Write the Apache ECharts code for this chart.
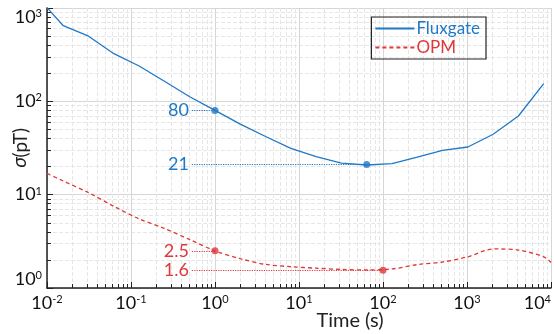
<!DOCTYPE html>
<html>
<head>
<meta charset="utf-8">
<script src="https://cdn.jsdelivr.net/npm/echarts@6/dist/echarts.min.js"></script>
<style>
  html, body { margin: 0; padding: 0; background: #fff; }
  #main { width: 554px; height: 334px; }
</style>
</head>
<body>
<div id="main"></div>
<script>
// averaging times (s)
const taus = [0.01, 1 / 64, 1 / 32, 1 / 16, 1 / 8, 1 / 4, 1 / 2, 1, 2, 4, 8, 16, 32, 64, 128, 256, 512, 1024, 2048, 4096, 8192];
const fluxgate = [1010, 646, 499, 324, 239, 164, 112, 80, 57, 42, 31.4, 25.5, 21.8, 20.8, 21.5, 25.2, 29.9, 32.4, 44.4, 69.6, 155];
const opmTaus = taus.concat([10000]);
const opm = [16.9, 14, 10.5, 7.5, 5.5, 4.35, 3.3, 2.5, 2.06, 1.79, 1.69, 1.63, 1.58, 1.56, 1.6, 1.78, 1.9, 2.16, 2.62, 2.55, 2.16, 1.88];

// highlighted points
const markX = [1, 64, 1, 100];
const markY = [80, 21, 2.5, 1.55];
const markText = ['80', '21', '2.5', '1.6'];
const markSeries = [0, 0, 1, 1];
const labelStartX = 0.53;

const BLUE = '#1f78c8';
const RED = '#e0383a';
const FONT = 'Lato, "Open Sans", sans-serif';

const zip = (xs, ys) => ys.map((y, i) => [xs[i], y]);

function markLines(s, color) {
  const out = [];
  markX.forEach((x, i) => {
    if (markSeries[i] !== s) return;
    out.push([
      { coord: [labelStartX, markY[i]], label: { formatter: markText[i] } },
      { coord: [x, markY[i]] }
    ]);
  });
  return {
    silent: true,
    symbol: 'none',
    lineStyle: { color: color, type: 'dotted', width: 1.2 },
    label: { position: 'start', distance: 3, color: color, fontSize: 18, fontFamily: FONT },
    data: out
  };
}

function markPoints(s) {
  const out = [];
  markX.forEach((x, i) => { if (markSeries[i] === s) out.push([x, markY[i]]); });
  return out;
}

const supLabel = {
  color: '#111',
  fontFamily: FONT,
  fontSize: 18,
  formatter: (v) => '10{s|' + Math.round(Math.log10(v)) + '}',
  rich: { s: { fontSize: 11, verticalAlign: 'top', fontFamily: FONT, color: '#111' } }
};

const chart = echarts.init(document.getElementById('main'));
const option = {
  backgroundColor: '#ffffff',
  animation: false,
  grid: { left: 47, right: 3, top: 8, bottom: 46, outerBoundsMode: 'none', containLabel: false },
  legend: {
    orient: 'vertical',
    right: 68,
    top: 17,
    padding: [3, 6, 3, 3],
    itemGap: 2,
    itemWidth: 39,
    itemHeight: 14,
    borderColor: '#222',
    borderWidth: 1.2,
    itemStyle: { opacity: 0 },
    textStyle: { fontSize: 17, fontFamily: FONT, padding: [0, 0, 0, -3] },
    data: [
      { name: 'Fluxgate', textStyle: { color: BLUE } },
      { name: 'OPM', textStyle: { color: RED } }
    ]
  },
  xAxis: {
    type: 'log',
    logBase: 10,
    min: 0.01,
    max: 10000,
    splitNumber: 6,
    name: 'Time (s)',
    nameLocation: 'middle',
    nameGap: 23,
    nameMoveOverlap: false,
    nameTextStyle: { fontSize: 20, color: '#222', fontFamily: FONT, padding: [0, 0, 0, 102] },
    axisLine: { show: true, lineStyle: { color: '#222', width: 1.5 } },
    axisTick: { inside: true, length: 6, lineStyle: { color: '#222' } },
    minorTick: { show: true, splitNumber: 9, length: 4, lineStyle: { color: '#222' } },
    axisLabel: Object.assign({ margin: 6, alignMaxLabel: 'right' }, supLabel),
    splitLine: { show: true, lineStyle: { color: '#d6d6d6', width: 1 } },
    minorSplitLine: { show: true, lineStyle: { color: '#e6e6e6', type: 'dashed', width: 1 } }
  },
  yAxis: {
    type: 'log',
    logBase: 10,
    min: 1,
    max: 1000,
    splitNumber: 3,
    name: '{i|σ}(pT)',
    nameLocation: 'middle',
    nameGap: 17,
    nameMoveOverlap: false,
    nameTextStyle: {
      fontSize: 19, color: '#222', fontFamily: FONT,
      rich: { i: { fontStyle: 'italic', fontSize: 19, fontFamily: 'Noto Sans, sans-serif', color: '#222' } }
    },
    axisLine: { show: true, lineStyle: { color: '#222', width: 1.5 } },
    axisTick: { inside: true, length: 6, lineStyle: { color: '#222' } },
    minorTick: { show: true, splitNumber: 9, length: 4, lineStyle: { color: '#222' } },
    axisLabel: Object.assign({ margin: 5, verticalAlignMaxLabel: 'top', verticalAlignMinLabel: 'bottom' }, supLabel),
    splitLine: { show: true, lineStyle: { color: '#d6d6d6', width: 1 } },
    minorSplitLine: { show: true, lineStyle: { color: '#e6e6e6', type: 'dashed', width: 1 } }
  },
  series: [
    {
      name: 'Fluxgate',
      type: 'line',
      data: zip(taus, fluxgate),
      symbol: 'none',
      color: BLUE,
      lineStyle: { color: BLUE, width: 1.3 },
      markLine: markLines(0, BLUE),
      z: 3
    },
    {
      name: 'OPM',
      type: 'line',
      data: zip(opmTaus, opm),
      symbol: 'none',
      smooth: 0.3,
      color: RED,
      lineStyle: { color: RED, width: 1.3, type: [4, 3] },
      markLine: markLines(1, RED),
      z: 3
    },
    {
      type: 'scatter',
      data: markPoints(0),
      symbolSize: 7,
      itemStyle: { color: BLUE },
      z: 4
    },
    {
      type: 'scatter',
      data: markPoints(1),
      symbolSize: 7,
      itemStyle: { color: RED },
      z: 4
    }
  ]
};
chart.setOption(option);
</script>
</body>
</html>
